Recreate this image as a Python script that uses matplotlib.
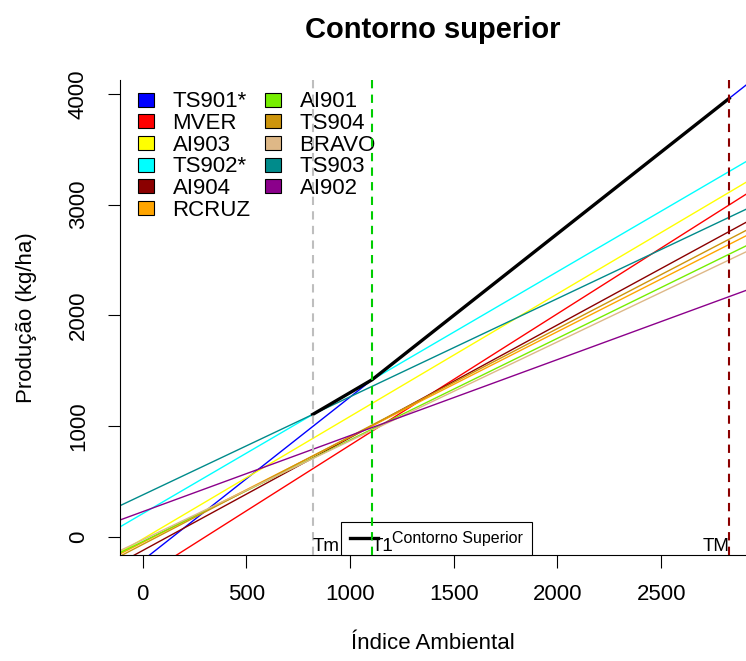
import numpy as np
import matplotlib
matplotlib.use("Agg")
import matplotlib.pyplot as plt
from matplotlib.patches import Patch
from matplotlib.lines import Line2D

plt.rcParams["font.family"] = ["Liberation Sans", "DejaVu Sans"]

# genotype regression lines: produção = intercept + slope * índice
genotypes = ["TS901*", "MVER", "AI903", "TS902*", "AI904", "RCRUZ",
             "AI901", "TS904", "BRAVO", "TS903", "AI902"]
intercepts = [-215, -360, -21, 208, -125, -52, -44, -70, -28, 377, 226]
slopes = [1.476, 1.187, 1.1075, 1.093, 1.019, 0.952, 0.918, 0.975, 0.894, 0.887, 0.687]
colors = ["#0000FF", "#FF0000", "#FFFF00", "#00FFFF", "#8B0000", "#FFA500",
          "#76EE00", "#CD950C", "#DEB887", "#008B8B", "#8B008B"]

# reference points on the environmental index
t_min = 820
t_1 = 1105
t_max = 2828

x_range = (-109, 2909)
y_range = (-165, 4125)

fig = plt.figure(figsize=(7.46, 6.61), dpi=100)
ax = fig.add_axes([120 / 746, 1 - 555 / 661, 626 / 746, 475 / 661])

xs = np.linspace(x_range[0], x_range[1], 200)
for a, b, c in zip(intercepts, slopes, colors):
    ax.plot(xs, a + b * xs, color=c, lw=1.0, zorder=2)

# upper contour: max of all lines between Tm and TM
xc = np.linspace(t_min, t_max, 400)
yc = np.max([a + b * xc for a, b in zip(intercepts, slopes)], axis=0)
ax.plot(xc, yc, color="black", lw=2.4, zorder=3)

ax.set_xlim(*x_range)
ax.set_ylim(*y_range)
ax.set_xticks([0, 500, 1000, 1500, 2000, 2500])
ax.set_yticks([0, 1000, 2000, 3000, 4000])
ax.tick_params(direction="out", length=9, width=0.8, labelsize=16)
ax.tick_params(axis="x", pad=12)
ax.tick_params(axis="y", pad=13.5)
for lbl in ax.get_yticklabels():
    lbl.set_rotation(90)
    lbl.set_va("center")
ax.spines["top"].set_visible(False)
ax.spines["right"].set_visible(False)
for s in ("left", "bottom"):
    ax.spines[s].set_linewidth(0.8)

ax.set_title("Contorno superior", fontsize=21, fontweight="bold", pad=30)
ax.set_xlabel("Índice Ambiental", fontsize=16, labelpad=20)
ax.set_ylabel("Produção (kg/ha)", fontsize=16, labelpad=22)

handles = [Patch(facecolor=c, edgecolor="black", lw=0.8) for c in colors]
leg1 = ax.legend(handles, genotypes, ncol=2, loc="upper left",
                 bbox_to_anchor=(0.029, 0.976), frameon=False, fontsize=16,
                 handlelength=0.7, handleheight=0.6, handletextpad=0.85,
                 columnspacing=0.65, labelspacing=0.03, borderpad=0, borderaxespad=0)
ax.add_artist(leg1)

leg2 = ax.legend([Line2D([], [], color="black", lw=2.4)], ["Contorno Superior"],
                 loc="lower left", bbox_to_anchor=(0.353, 0.0), fontsize=11.5,
                 frameon=True, fancybox=False, framealpha=1, edgecolor="black",
                 handlelength=1.75, handletextpad=0.9, borderpad=0.55, borderaxespad=0)
leg2.get_frame().set_linewidth(0.8)
leg2.set_zorder(4)

ax.axvline(t_min, color="#BEBEBE", lw=1.5, ls=(0, (4, 3)), zorder=6)
ax.axvline(t_1, color="#00CD00", lw=1.5, ls=(0, (4, 3)), zorder=6)
ax.axvline(t_max, color="#8B0000", lw=1.5, ls=(0, (4, 3)), zorder=6)

ax.text(t_min, y_range[0], "Tm", fontsize=13.5, ha="left", va="bottom", zorder=7)
ax.text(t_1, y_range[0], "T1", fontsize=13.5, ha="left", va="bottom", zorder=7)
ax.text(t_max, y_range[0], "TM", fontsize=13.5, ha="right", va="bottom", zorder=7)

fig.savefig("out.png", dpi=100)
